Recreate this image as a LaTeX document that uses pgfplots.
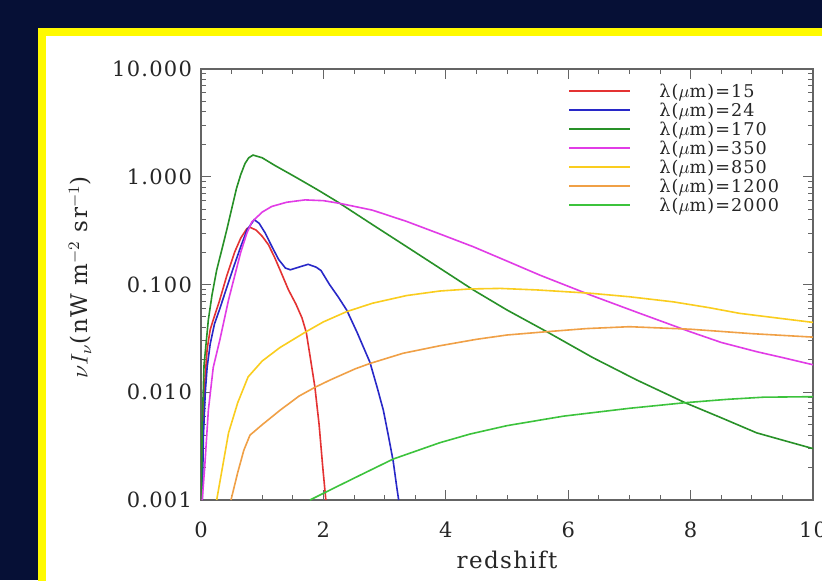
\documentclass[border=0pt]{standalone}
\usepackage{fontspec}
\setmainfont{DejaVu Serif}[LetterSpace=6]
\usepackage{pgfplots}
\pgfplotsset{compat=1.18}

\definecolor{bgnavy}{RGB}{6,16,54}
\definecolor{frameyellow}{RGB}{255,250,0}
\definecolor{axgray}{RGB}{100,100,100}
\definecolor{cred}{RGB}{228,50,50}
\definecolor{cblue}{RGB}{40,40,200}
\definecolor{cdkgreen}{RGB}{40,145,40}
\definecolor{cmag}{RGB}{225,60,230}
\definecolor{cyel}{RGB}{250,205,30}
\definecolor{corange}{RGB}{240,160,70}
\definecolor{cgreen}{RGB}{60,195,60}

\begin{document}
\begin{tikzpicture}
\useasboundingbox (0,0) rectangle (411pt,-290pt);
\clip (0,0) rectangle (411pt,-290pt);
\fill[bgnavy] (0,0) rectangle (411pt,-290pt);
\fill[frameyellow] (19pt,-14pt) rectangle (430pt,-300pt);
\fill[white] (23pt,-18pt) rectangle (430pt,-300pt);
\begin{axis}[
  at={(100.5pt,-250pt)}, anchor=south west,
  scale only axis,
  width=306pt, height=215.5pt,
  xmin=0, xmax=10,
  ymode=log, ymin=0.001, ymax=10,
  xtick={0,2,4,6,8,10},
  xticklabels={0,2,4,6,8,10},
  minor x tick num=3,
  ytick={0.001,0.01,0.1,1,10},
  yticklabels={0.001,0.010,0.100,1.000,10.000},
  tick align=inside,
  major tick length=5pt,
  minor tick length=2.5pt,
  axis line style={axgray, line width=0.6pt},
  tick style={axgray, line width=0.5pt},
  tick label style={font=\fontsize{10.5}{12}\selectfont, text=black!85},
  xticklabel style={yshift=-7.5pt},
  yticklabel style={xshift=-1pt},
  xlabel={redshift},
  ylabel={\(\nu I_\nu\)(nW m\(^{-2}\) sr\(^{-1}\))},
  label style={font=\fontsize{11.5}{13}\selectfont, text=black!85},
  xlabel style={at={(axis description cs:0.5,-0.138)}, anchor=center},
  ylabel style={at={(axis description cs:-0.1977,0.517)}, anchor=center},
  legend cell align=left,
  legend style={draw=none, fill=none, at={(0.5997,0.963)}, anchor=north west,
    font=\fontsize{8.8}{10}\selectfont, text=black!85,
    inner sep=0pt, column sep=14pt, row sep=1.9pt,
    nodes={inner sep=0pt, text height=6pt, text depth=1.6pt}},
  legend image code/.code={\draw[#1, line width=1pt] (0pt,1pt) -- (30.5pt,1pt);},
  every axis plot/.append style={line width=0.8pt},
]
\addplot[cred] coordinates {
(0.01,0.001) (0.03,0.004) (0.06,0.012) (0.1,0.025) (0.15,0.038) (0.2,0.047)
(0.3,0.07) (0.42,0.12) (0.55,0.2) (0.65,0.27) (0.75,0.33) (0.8,0.34)
(0.9,0.32) (1.0,0.28) (1.1,0.235) (1.2,0.18) (1.3,0.133) (1.43,0.089)
(1.55,0.066) (1.65,0.049) (1.72,0.036) (1.78,0.022) (1.86,0.0113)
(1.93,0.005) (1.99,0.002) (2.04,0.001)};
\addlegendentry{λ(\(\mu\)m)=15}
\addplot[cblue] coordinates {
(0.02,0.001) (0.04,0.004) (0.07,0.01) (0.1,0.017) (0.15,0.028) (0.22,0.043)
(0.3,0.058) (0.45,0.105) (0.55,0.155) (0.65,0.225) (0.75,0.32) (0.87,0.40)
(0.95,0.37) (1.05,0.30) (1.15,0.23) (1.27,0.17) (1.38,0.142) (1.46,0.137)
(1.6,0.145) (1.75,0.154) (1.88,0.145) (1.96,0.135) (2.1,0.1) (2.24,0.077)
(2.38,0.058) (2.55,0.036) (2.76,0.019) (2.88,0.011) (2.98,0.0068)
(3.06,0.004) (3.14,0.0023) (3.2,0.0013) (3.23,0.001)};
\addlegendentry{λ(\(\mu\)m)=24}
\addplot[cdkgreen] coordinates {
(0.005,0.001) (0.02,0.005) (0.05,0.018) (0.12,0.047) (0.18,0.08)
(0.256,0.136) (0.34,0.21) (0.42,0.32) (0.5,0.5) (0.58,0.78) (0.65,1.05)
(0.72,1.33) (0.78,1.5) (0.85,1.59) (1.0,1.5) (1.2,1.28) (1.536,1.0)
(1.9,0.76) (2.22,0.59) (2.8,0.36) (3.4,0.217) (3.9,0.142) (4.45,0.089)
(5.0,0.058) (5.65,0.0365) (6.4,0.021) (7.12,0.013) (7.91,0.008)
(8.5,0.0058) (9.08,0.0042) (9.5,0.0036) (10,0.003)};
\addlegendentry{λ(\(\mu\)m)=170}
\addplot[cmag] coordinates {
(0.02,0.001) (0.06,0.002) (0.12,0.0068) (0.2,0.017) (0.31,0.031)
(0.45,0.072) (0.55,0.12) (0.65,0.2) (0.75,0.3) (0.83,0.38) (1.0,0.47)
(1.155,0.53) (1.4,0.58) (1.7,0.61) (2.0,0.60) (2.27,0.566) (2.8,0.49)
(3.36,0.385) (3.9,0.295) (4.45,0.224) (5.0,0.165) (5.54,0.122) (6.36,0.08)
(7.17,0.054) (7.99,0.0365) (8.5,0.029) (9.08,0.0238) (9.5,0.021)
(10,0.018)};
\addlegendentry{λ(\(\mu\)m)=350}
\addplot[cyel] coordinates {
(0.256,0.001) (0.35,0.002) (0.45,0.0042) (0.6,0.008) (0.77,0.0139)
(1.0,0.0195) (1.29,0.026) (1.7,0.036) (2.0,0.045) (2.38,0.056)
(2.8,0.067) (3.36,0.079) (3.9,0.087) (4.4,0.091) (4.89,0.092) (5.5,0.089)
(6.36,0.083) (7.0,0.077) (7.72,0.069) (8.3,0.061) (8.8,0.054)
(9.4,0.049) (10,0.0445)};
\addlegendentry{λ(\(\mu\)m)=850}
\addplot[corange] coordinates {
(0.49,0.001) (0.6,0.0018) (0.7,0.0029) (0.8,0.004) (1.0,0.005)
(1.29,0.0068) (1.6,0.0092) (1.86,0.0111) (2.11,0.013) (2.52,0.0165)
(2.76,0.0185) (3.3,0.023) (3.9,0.027) (4.5,0.031) (5.0,0.034)
(5.65,0.0365) (6.3,0.039) (7.0,0.0406) (7.99,0.0385) (9.0,0.035)
(10,0.0325)};
\addlegendentry{λ(\(\mu\)m)=1200}
\addplot[cgreen] coordinates {
(1.78,0.001) (2.11,0.00124) (2.6,0.0017) (3.14,0.0024) (3.9,0.0034)
(4.4,0.0041) (5.0,0.0049) (5.92,0.006) (7.0,0.0071) (7.91,0.008)
(8.6,0.0086) (9.19,0.009) (10,0.0091)};
\addlegendentry{λ(\(\mu\)m)=2000}
\end{axis}
\end{tikzpicture}
\end{document}
